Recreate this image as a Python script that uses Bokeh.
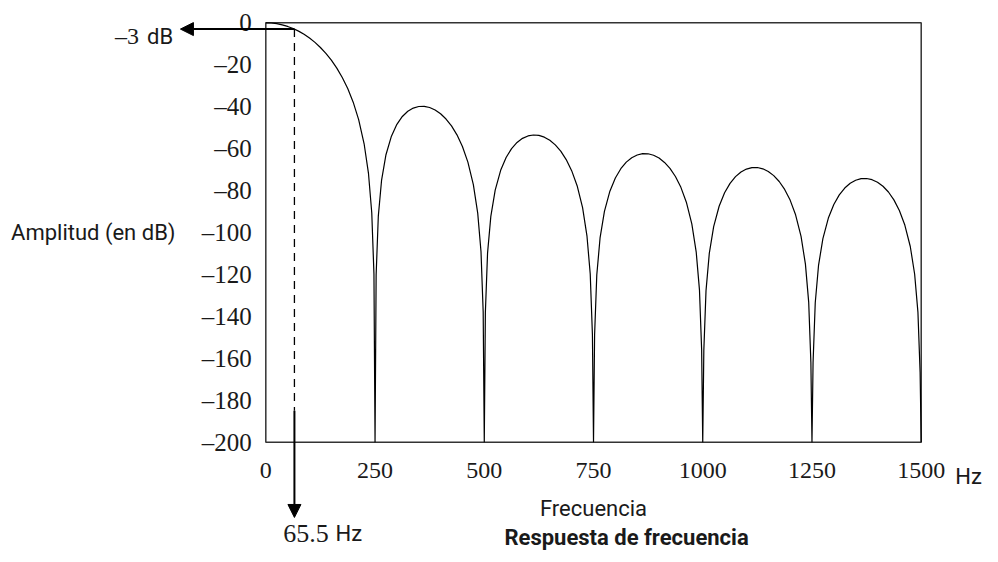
from bokeh.plotting import figure
from bokeh.models import Range1d, FixedTicker, Label, Arrow, NormalHead, LinearAxis
from bokeh.embed import file_html
from bokeh.resources import INLINE

# ---- data (frequency response, dB) ----
freq_hz = [
    0, 12.5, 25, 37.5, 50, 62.5, 75, 87.5, 100, 112.5, 125, 137.5, 150, 162.5, 175, 187.5,
    200, 212.5, 225, 235, 242.5, 247.5, 250,
    252.5, 257.5, 265, 275, 287.5, 300, 312.5, 325, 337.5, 350, 362.5, 375, 387.5, 400, 412.5,
    425, 437.5, 450, 462.5, 475, 485, 492.5, 497.5, 500,
    502.5, 507.5, 515, 525, 537.5, 550, 562.5, 575, 587.5, 600, 612.5, 625, 637.5, 650, 662.5,
    675, 687.5, 700, 712.5, 725, 735, 742.5, 747.5, 750,
    752.5, 757.5, 765, 775, 787.5, 800, 812.5, 825, 837.5, 850, 862.5, 875, 887.5, 900, 912.5,
    925, 937.5, 950, 962.5, 975, 985, 992.5, 997.5, 1000,
    1002.5, 1007.5, 1015, 1025, 1037.5, 1050, 1062.5, 1075, 1087.5, 1100, 1112.5, 1125, 1137.5,
    1150, 1162.5, 1175, 1187.5, 1200, 1212.5, 1225, 1235, 1242.5, 1247.5, 1250,
    1252.5, 1257.5, 1265, 1275, 1287.5, 1300, 1312.5, 1325, 1337.5, 1350, 1362.5, 1375, 1387.5,
    1400, 1412.5, 1425, 1437.5, 1450, 1462.5, 1475, 1485, 1492.5, 1497.5, 1500,
]
gain_db = [
    0, -0.11, -0.43, -0.97, -1.74, -2.74, -3.98, -5.48, -7.26, -9.34, -11.77, -14.57, -17.83,
    -21.61, -26.06, -31.36, -37.86, -46.17, -57.69, -71.85, -90.62, -119.74, -200,
    -120.27, -92.18, -74.99, -62.91, -54.05, -48.43, -44.67, -42.19, -40.66, -39.91, -39.83,
    -40.39, -41.57, -43.39, -45.89, -49.18, -53.44, -59.00, -66.44, -77.15, -90.74, -109.08,
    -137.94, -200,
    -138.20, -109.86, -92.30, -79.76, -70.36, -64.22, -59.99, -57.05, -55.10, -53.95, -53.50,
    -53.71, -54.54, -56.04, -58.23, -61.23, -65.22, -70.51, -77.70, -88.17, -101.57, -119.77,
    -148.55, -200,
    -148.72, -120.30, -102.61, -89.91, -80.31, -73.99, -69.57, -66.46, -64.34, -63.03, -62.42,
    -62.47, -63.16, -64.52, -66.58, -69.44, -73.30, -78.47, -85.54, -95.89, -109.20, -127.34,
    -156.07, -200,
    -156.20, -127.73, -109.98, -97.20, -87.49, -81.07, -76.56, -73.36, -71.15, -69.75, -69.05,
    -69.02, -69.63, -70.90, -72.89, -75.68, -79.46, -84.55, -91.55, -101.84, -115.09, -133.19,
    -161.90, -200,
    -162.00, -133.50, -115.72, -102.88, -93.12, -86.64, -82.07, -78.81, -76.54, -75.08, -74.33,
    -74.25, -74.81, -76.03, -77.96, -80.70, -84.44, -89.49, -96.44, -106.68, -119.90, -137.97,
    -166.66, -200,
]
x_ticks = [0, 250, 500, 750, 1000, 1250, 1500]
y_ticks = [0, -20, -40, -60, -80, -100, -120, -140, -160, -180, -200]
y_tick_labels = ["0", "\u201320", "\u201340", "\u201360", "\u201380", "\u2013100", "\u2013120",
                 "\u2013140", "\u2013160", "\u2013180", "\u2013200"]
cutoff_hz = 65.5
cutoff_db = -3.0

SERIF = "Liberation Serif"
SANS = "Roboto"
INK = "#1a1a1a"

x_lo, x_hi = x_ticks[0], x_ticks[-1]
y_lo, y_hi = y_ticks[-1], y_ticks[0]

# frame spans the whole canvas so that annotations outside the box are not clipped
p = figure(width=998, height=562, output_backend="svg", toolbar_location=None,
           x_range=Range1d(-607.2, 1676.9), y_range=Range1d(-257.37, 10.63),
           x_axis_type=None, y_axis_type=None, min_border=0)
p.outline_line_color = None
p.background_fill_color = "white"
p.border_fill_color = "white"

xaxis = LinearAxis(fixed_location=y_lo, ticker=FixedTicker(ticks=x_ticks))
yaxis = LinearAxis(fixed_location=x_lo, ticker=FixedTicker(ticks=y_ticks))
yaxis.major_label_overrides = {t: s for t, s in zip(y_ticks, y_tick_labels)}
for ax, size, standoff in ((xaxis, "24px", 15), (yaxis, "25px", 8)):
    ax.major_tick_line_color = None
    ax.minor_tick_line_color = None
    ax.axis_line_color = None
    ax.major_label_text_font = SERIF
    ax.major_label_text_font_size = size
    ax.major_label_text_color = INK
    ax.major_label_standoff = standoff
p.add_layout(xaxis, "below")
p.add_layout(yaxis, "left")

# plot box
p.quad(left=[x_lo], right=[x_hi], bottom=[y_lo], top=[y_hi], fill_color=None,
       line_color="#333333", line_width=1.5)

# response curve
p.line(freq_hz, gain_db, line_color="black", line_width=1.2)

# -3 dB marker
p.line([cutoff_hz, cutoff_hz], [cutoff_db, -185], line_color="black", line_width=1.3,
       line_dash="8 6")
p.add_layout(Arrow(end=NormalHead(size=13, fill_color="black", line_color="black"),
                   x_start=cutoff_hz, y_start=cutoff_db, x_end=-195.4, y_end=cutoff_db,
                   line_color="black", line_width=2))
p.add_layout(Arrow(end=NormalHead(size=13, fill_color="black", line_color="black"),
                   x_start=cutoff_hz, y_start=-185, x_end=cutoff_hz, y_end=-235.9,
                   line_color="black", line_width=2))

def lab(x, y, text, font, size="24px", align="left", baseline="middle", style="normal"):
    p.add_layout(Label(x=x, y=y, text=text, text_font=font, text_font_size=size,
                       text_align=align, text_baseline=baseline, text_font_style=style,
                       text_color=INK))

lab(-206.7, -100, "Amplitud (en dB)", SANS, size="22px", align="right")
lab(750, -231.7, "Frecuencia", SANS, size="22px", align="center", baseline="alphabetic")
lab(825.6, -245.5, "Respuesta de frecuencia", SANS, size="22px", align="center",
    baseline="alphabetic", style="bold")
lab(-290.5, -6.5, "\u20133", SERIF, align="right")
lab(-211.9, -6.5, "dB", SANS, size="22px", align="right")
lab(39.8, -243.5, "65.5", SERIF, size="26px")
lab(159.5, -243.5, "Hz", SANS, size="22px")
lab(1577.9, -216.2, "Hz", SANS, size="22px")

open("out.html", "w").write(file_html(p, INLINE))
